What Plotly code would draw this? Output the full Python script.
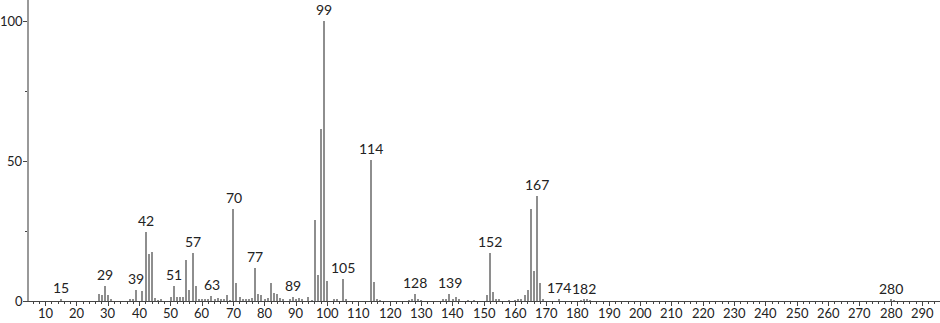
import plotly.graph_objects as go

# m/z values and relative intensities
mz = [15, 27, 28, 29, 30, 31, 37, 38, 39, 41, 42, 43, 44, 45, 46, 47,
      50, 51, 52, 53, 54, 55, 56, 57, 58, 59, 60, 61, 62, 63, 64, 65, 66, 67, 68, 69,
      70, 71, 72, 73, 74, 75, 76, 77, 78, 79, 80, 81, 82, 83, 84, 85, 86, 88, 89, 90,
      91, 92, 94, 95, 96, 97, 98, 99, 100, 102, 103, 105, 106, 114, 115, 116, 117,
      126, 127, 128, 129, 130, 137, 138, 139, 140, 141, 142, 145, 147,
      151, 152, 153, 154, 155, 158, 160, 161, 162, 163, 164, 165, 166, 167, 168, 169,
      174, 181, 182, 183, 184, 280, 281]
intensity = [0.7, 2.5, 2.2, 5.2, 2.0, 0.4, 0.5, 0.6, 3.9, 3.6, 24.8, 16.8, 17.5, 1.0, 0.3, 0.4,
             1.5, 5.4, 1.3, 1.5, 1.5, 14.6, 3.9, 17.0, 5.4, 0.5, 0.4, 0.4, 0.5, 1.9, 0.5, 1.0, 0.5, 0.7, 2.0, 0.3,
             32.8, 6.5, 1.3, 0.8, 0.5, 0.8, 1.2, 11.8, 2.6, 2.1, 0.5, 1.0, 6.5, 2.7, 2.4, 1.0, 0.5, 0.5, 1.3, 0.5,
             1.1, 0.7, 1.4, 0.3, 28.9, 9.4, 61.4, 100.0, 7.0, 0.7, 0.5, 7.8, 0.5, 50.4, 6.9, 0.5, 0.3,
             0.3, 0.5, 2.4, 0.7, 0.3, 0.5, 0.7, 2.4, 0.8, 1.4, 0.7, 0.3, 0.3,
             2.3, 17.3, 3.3, 0.5, 0.5, 0.3, 0.3, 0.5, 0.5, 2.1, 3.9, 32.9, 10.8, 37.5, 6.3, 0.5,
             0.7, 0.3, 0.5, 0.4, 0.3, 0.5, 0.3]

labelled_mz = [15, 29, 39, 42, 51, 57, 63, 70, 77, 89, 99, 105, 114, 128, 139, 152, 167, 174, 182, 280]

x_tick_values = list(range(10, 300, 10))
y_tick_values = [0, 50, 100]

X_RANGE = [4.7, 295.6]
Y_RANGE = [0, 107.5]

FONT = "Lato, 'DejaVu Sans', sans-serif"
TXT = "#222"

fig = go.Figure()
fig.add_trace(go.Bar(
    x=mz, y=intensity, width=0.45,
    marker=dict(color="#8e8e8e", line=dict(width=0)),
    hoverinfo="x+y",
))

lookup = dict(zip(mz, intensity))
for m in labelled_mz:
    fig.add_annotation(
        x=m, y=lookup[m], text=str(m), showarrow=False,
        yanchor="bottom", yshift=1,
        font=dict(family=FONT, size=14, color=TXT),
    )

# tick labels drawn as annotations, so they sit as close to the axes as in the reference
for v in x_tick_values:
    fig.add_annotation(
        x=v, y=Y_RANGE[0], text=str(v), showarrow=False,
        xanchor="center", yanchor="top", yshift=-3,
        font=dict(family=FONT, size=13, color=TXT), borderpad=0,
    )
for v in y_tick_values:
    fig.add_annotation(
        x=X_RANGE[0], y=v, text=str(v), showarrow=False,
        xanchor="right", yanchor="middle", xshift=-5,
        font=dict(family=FONT, size=13, color=TXT), borderpad=0,
    )

fig.update_layout(
    width=940, height=323,
    margin=dict(l=29, r=0, t=0, b=22, autoexpand=False),
    paper_bgcolor="white", plot_bgcolor="white",
    showlegend=False,
    bargap=0,
    font=dict(family=FONT, size=13, color=TXT),
)
fig.update_xaxes(
    automargin=False,
    range=X_RANGE,
    tickvals=x_tick_values, showticklabels=False,
    ticks="outside", ticklen=4, tickcolor="#444", tickwidth=1,
    minor=dict(dtick=2, tick0=0, ticks="outside", ticklen=2, tickcolor="#444"),
    showline=True, linecolor="#444", linewidth=1,
    showgrid=False, zeroline=False,
)
fig.update_yaxes(
    automargin=False,
    range=Y_RANGE,
    tickvals=y_tick_values, showticklabels=False,
    ticks="outside", ticklen=4, tickcolor="#444", tickwidth=1,
    minor=dict(tickvals=[25, 75], ticks="outside", ticklen=2, tickcolor="#444"),
    showline=True, linecolor="#999", linewidth=2,
    showgrid=False, zeroline=False,
)

fig.write_html("out.html")
